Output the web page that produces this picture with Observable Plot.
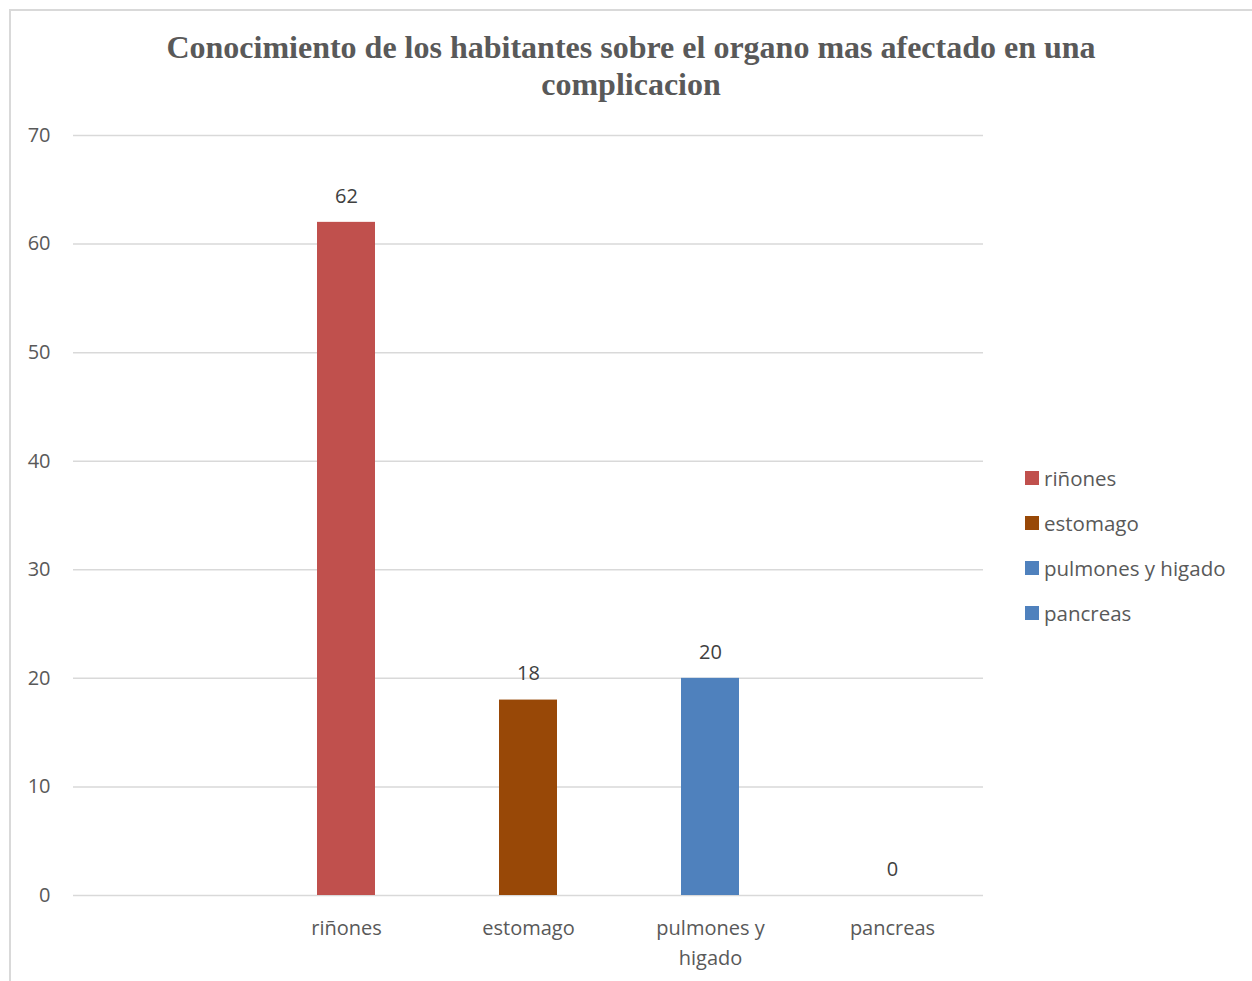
<!DOCTYPE html>
<html>
<head>
<meta charset="utf-8">
<script src="https://cdn.jsdelivr.net/npm/d3@7"></script>
<script src="https://cdn.jsdelivr.net/npm/@observablehq/plot@0.6"></script>
<style>
  html, body { margin: 0; padding: 0; background: #fff; }
  #page { position: relative; width: 1252px; height: 981px; overflow: hidden; background: #fff; }
  #frame { position: absolute; left: 9px; top: 9px; right: -10px; bottom: -10px;
           border-left: 2px solid #d9d9d9; border-top: 2px solid #d9d9d9; }
  #title { position: absolute; left: 81px; width: 1100px; top: 29px; text-align: center;
           font-family: "Liberation Serif", "Times New Roman", serif; font-weight: bold;
           font-size: 32px; line-height: 37px; color: #595959; }
  #chart { position: absolute; left: 0; top: 110px; }
  #legend { position: absolute; left: 1025px; top: 455px; font-family: "Open Sans", sans-serif;
            font-size: 20.5px; color: #595959; }
  .item { display: flex; align-items: center; height: 45px; }
  .sw { width: 14px; height: 14px; margin-right: 5px; }
</style>
</head>
<body>
<div id="page">
  <div id="frame"></div>
  <div id="title">Conocimiento de los habitantes sobre el organo mas afectado en una<br>complicacion</div>
  <div id="chart"></div>
  <div id="legend"></div>
</div>
<script>
// Organs named by respondents and the number of answers for each
const organs = ["riñones", "estomago", "pulmones y higado", "pancreas"];
const counts = [62, 18, 20, 0];
const colors = ["#C0504D", "#984807", "#4F81BD", "#4F81BD"];
// The category axis keeps an empty leading slot
const slots = [" ", ...organs];
const yTicks = [0, 10, 20, 30, 40, 50, 60, 70];
const tickLabels = {"pulmones y higado": "pulmones y\nhigado"};

const data = organs.map((o, i) => ({organ: o, count: counts[i], color: colors[i]}));

const chart = Plot.plot({
  width: 1000,
  height: 870,
  marginLeft: 73,
  marginRight: 17,
  marginTop: 25,
  marginBottom: 85,
  style: {fontFamily: "'Open Sans', sans-serif", fontSize: "20px", color: "#595959", background: "transparent"},
  x: {domain: slots, paddingInner: 0.68, paddingOuter: 0.34, label: null},
  y: {domain: [0, 70], label: null},
  marks: [
    Plot.gridY(yTicks, {stroke: "#d9d9d9", strokeOpacity: 1, strokeWidth: 1.5}),
    Plot.barY(data, {x: "organ", y: "count", fill: "color"}),
    Plot.text(data, {x: "organ", y: "count", text: d => String(d.count), dy: -26,
                     fill: "#404040", fontSize: 20}),
    Plot.axisY({ticks: yTicks, tickSize: 0, tickPadding: 23, fontSize: 20, fill: "#595959"}),
    Plot.axisX({tickSize: 0, tickPadding: 18, fontSize: 20, lineHeight: 1.5, fill: "#595959",
                tickFormat: d => tickLabels[d] ?? d})
  ]
});
document.getElementById("chart").appendChild(chart);

// Legend: one swatch per organ
const legend = document.getElementById("legend");
data.forEach(d => {
  const item = document.createElement("div");
  item.className = "item";
  const sw = document.createElement("div");
  sw.className = "sw";
  sw.style.background = d.color;
  const label = document.createElement("span");
  label.textContent = d.organ;
  item.appendChild(sw);
  item.appendChild(label);
  legend.appendChild(item);
});
</script>
</body>
</html>
